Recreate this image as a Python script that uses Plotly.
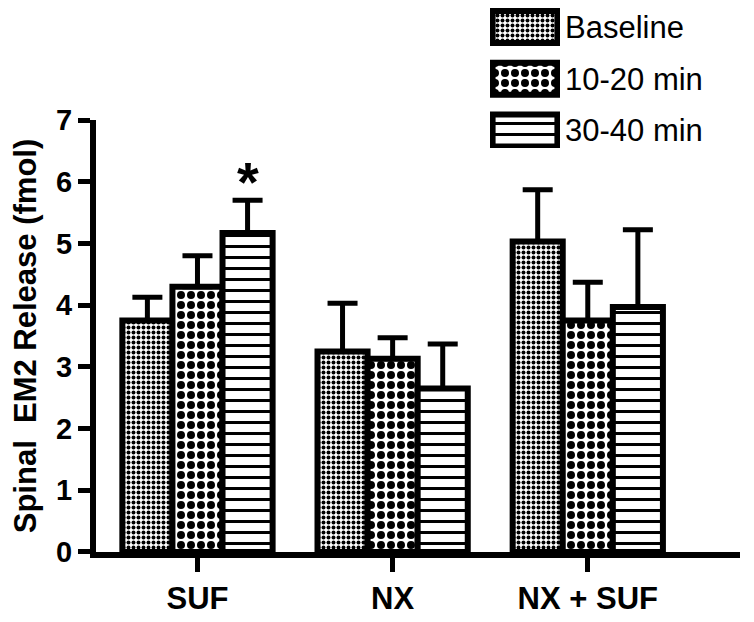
import plotly.graph_objects as go

# groups and series
groups = ["SUF", "NX", "NX + SUF"]
series_names = ["Baseline", "10-20 min", "30-40 min"]
means = [
    [3.75, 3.25, 5.03],   # Baseline
    [4.30, 3.13, 3.75],   # 10-20 min
    [5.17, 2.65, 3.97],   # 30-40 min
]
err_top = [
    [4.13, 4.03, 5.87],
    [4.80, 3.47, 4.37],
    [5.70, 3.37, 5.22],
]
y_ticks = [0, 1, 2, 3, 4, 5, 6, 7]

# fill pattern per series (fine check, coarse check, horizontal stripes)
pat_shape = [".", ".", "-"]
pat_size = [5, 10, 11]
pat_solid = [0.5, 0.5, 0.273]

font_family = "Arial, Liberation Sans, sans-serif"

fig = go.Figure()
for i, name in enumerate(series_names):
    vals = means[i]
    fig.add_trace(go.Bar(
        x=groups, y=vals, name=name, showlegend=False,
        marker=dict(color="white", line=dict(color="black", width=6),
                    pattern=dict(shape=pat_shape[i], size=pat_size[i], solidity=pat_solid[i],
                                 fgcolor="black", bgcolor="white", fgopacity=1)),
        error_y=dict(type="data", symmetric=False,
                     array=[t - v for t, v in zip(err_top[i], vals)],
                     arrayminus=[0] * len(vals),
                     color="black", thickness=5, width=15),
    ))

# legend drawn as a small horizontal bar chart in the top right corner
fig.add_trace(go.Bar(
    x=[1] * len(series_names), y=series_names, orientation="h",
    xaxis="x2", yaxis="y2", width=0.62, showlegend=False, hoverinfo="skip",
    marker=dict(color="white", line=dict(color="black", width=6),
                pattern=dict(shape=pat_shape, size=pat_size, solidity=pat_solid,
                             fgcolor="black", bgcolor="white", fgopacity=1)),
))

# significance star over SUF 30-40 min
fig.add_annotation(x="SUF", y=err_top[2][0], text="*", showarrow=False,
                   xshift=51, yanchor="bottom", yshift=-15,
                   font=dict(size=56, color="black", family=font_family, weight="bold"))

# page body adds an 8px margin, so the figure is 8px smaller than the window
fig.update_layout(
    width=746, height=614,
    margin=dict(l=88, r=14, t=0, b=70, autoexpand=False),
    paper_bgcolor="white", plot_bgcolor="white",
    barmode="group", bargap=0.23, bargroupgap=0,
    showlegend=False,
    font=dict(family=font_family, color="black"),
    xaxis=dict(domain=[0, 1], range=[-0.52, 2.78], showline=True, linecolor="black", linewidth=6,
               ticks="outside", ticklen=14, tickwidth=5, tickcolor="black", automargin=False,
               tickfont=dict(size=31, color="black", weight="bold"),
               showgrid=False, zeroline=False, fixedrange=True),
    yaxis=dict(domain=[0, 0.7941], range=[0, 7], tickvals=y_ticks, showline=True,
               linecolor="black", linewidth=6, automargin=False,
               ticks="outside", ticklen=12, tickwidth=5, tickcolor="black",
               tickfont=dict(size=29, color="black", weight="bold"),
               title=dict(text="Spinal  EM2 Release (fmol)", standoff=26,
                          font=dict(size=31, color="black", weight="bold")),
               showgrid=False, zeroline=False, fixedrange=True),
    xaxis2=dict(domain=[0.6118, 0.7205], anchor="y2", range=[-0.04, 1.04], visible=False,
                fixedrange=True),
    yaxis2=dict(domain=[0.7426, 1.0], anchor="x2", side="right", type="category",
                range=[2.3405, -0.3675], showline=False, showgrid=False, zeroline=False,
                ticks="", ticklabelstandoff=4, automargin=False,
                tickfont=dict(size=31, color="black"), fixedrange=True),
)

fig.write_html("out.html")
